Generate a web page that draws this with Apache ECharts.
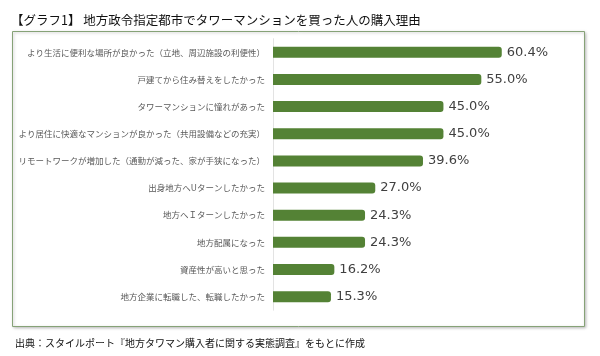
<!DOCTYPE html>
<html>
<head>
<meta charset="utf-8">
<script src="https://cdn.jsdelivr.net/npm/echarts@6/dist/echarts.min.js"></script>
<style>html,body{margin:0;padding:0;background:#fff;}#c{width:600px;height:356px;}</style>
</head>
<body>
<div id="c"></div>
<script>
const titleText = '【グラフ1】 地方政令指定都市でタワーマンションを買った人の購入理由';
const sourceText = '出典：スタイルポート『地方タワマン購入者に関する実態調査』をもとに作成';
const categories = [
  'より生活に便利な場所が良かった（立地、周辺施設の利便性）',
  '戸建てから住み替えをしたかった',
  'タワーマンションに憧れがあった',
  'より居住に快適なマンションが良かった（共用設備などの充実）',
  'リモートワークが増加した（通勤が減った、家が手狭になった）',
  '出身地方へUターンしたかった',
  '地方へＩターンしたかった',
  '地方配属になった',
  '資産性が高いと思った',
  '地方企業に転職した、転職したかった'
];
const values = [60.4, 55.0, 45.0, 45.0, 39.6, 27.0, 24.3, 24.3, 16.2, 15.3];

const chart = echarts.init(document.getElementById('c'), null, {renderer: 'canvas'});
chart.setOption({
  backgroundColor: '#fff',
  animation: false,
  title: [{
    text: titleText, left: 6, top: 9,
    textStyle: {fontFamily: 'Noto Sans CJK JP', fontSize: 12.5, fontWeight: 'normal', color: '#111'}
  }, {
    text: sourceText, left: 10, top: 333,
    textStyle: {fontFamily: 'Noto Sans CJK JP', fontSize: 10, fontWeight: 'normal', color: '#111'}
  }],
  graphic: [{
    type: 'rect', z: -10,
    shape: {x: 12.5, y: 31.5, width: 572, height: 295},
    style: {fill: '#fff', stroke: '#86a277', lineWidth: 1,
      shadowBlur: 3, shadowOffsetX: 1, shadowOffsetY: 1, shadowColor: 'rgba(0,0,0,0.25)'}
  }],
  grid: {left: 273, top: 38.7, width: 303, height: 271.5, containLabel: false},
  xAxis: {type: 'value', min: 0, max: 80, show: false},
  yAxis: {
    type: 'category', data: categories, inverse: true,
    axisLine: {show: true, lineStyle: {color: '#e3e3e3'}},
    axisTick: {show: false},
    axisLabel: {margin: 8, fontFamily: 'Noto Sans CJK JP', fontSize: 8.5, color: '#595959'}
  },
  series: [{
    type: 'bar', data: values, barWidth: 11,
    itemStyle: {color: '#548235', borderRadius: [0, 3, 3, 0]},
    label: {show: true, position: 'right', distance: 5,
      formatter: p => p.value.toFixed(1) + '%',
      fontFamily: 'DejaVu Sans', fontSize: 13, color: '#404040'}
  }]
});
</script>
</body>
</html>
